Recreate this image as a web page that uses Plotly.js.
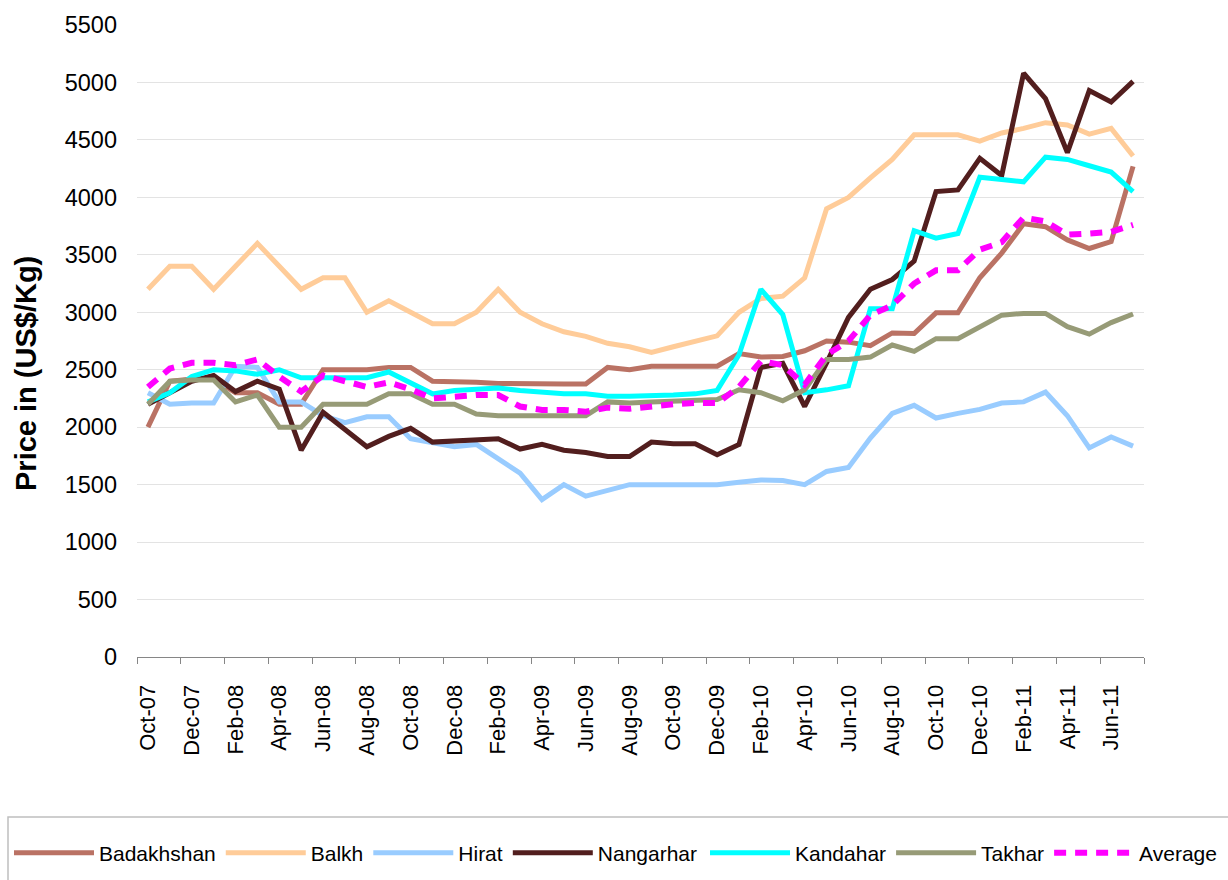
<!DOCTYPE html>
<html>
<head>
<meta charset="utf-8">
<script src="https://cdn.plot.ly/plotly-3.0.1.min.js"></script>
<style>
  html, body { margin: 0; padding: 0; background: #ffffff; }
  #chart { width: 1228px; height: 880px; }
</style>
</head>
<body>
<div id="chart"></div>
<script>
const months = ["Oct-07","Nov-07","Dec-07","Jan-08","Feb-08","Mar-08","Apr-08","May-08","Jun-08","Jul-08","Aug-08","Sep-08",
  "Oct-08","Nov-08","Dec-08","Jan-09","Feb-09","Mar-09","Apr-09","May-09","Jun-09","Jul-09","Aug-09","Sep-09",
  "Oct-09","Nov-09","Dec-09","Jan-10","Feb-10","Mar-10","Apr-10","May-10","Jun-10","Jul-10","Aug-10","Sep-10",
  "Oct-10","Nov-10","Dec-10","Jan-11","Feb-11","Mar-11","Apr-11","May-11","Jun-11","Jul-11"];

const badakhshan = [2000,2400,2420,2420,2300,2300,2200,2200,2500,2500,2500,2520,2520,2400,2400,2390,2380,2375,2375,2375,2375,2520,2500,2530,2530,2530,2530,2640,2610,2615,2665,2750,2740,2710,2820,2815,2995,2995,3300,3515,3770,3745,3630,3555,3615,4270];
const balkh = [3200,3400,3400,3200,3400,3600,3400,3200,3300,3300,3000,3100,3000,2900,2900,3000,3200,3000,2900,2830,2790,2730,2700,2650,2700,2745,2795,3000,3120,3140,3300,3900,4000,4170,4330,4545,4545,4545,4490,4560,4600,4650,4630,4550,4600,4360];
const hirat = [2300,2200,2210,2210,2530,2520,2220,2220,2100,2040,2090,2090,1900,1860,1830,1850,1720,1600,1370,1500,1400,1450,1500,1500,1500,1500,1500,1520,1540,1535,1500,1615,1650,1905,2120,2190,2080,2120,2155,2210,2220,2305,2100,1820,1915,1835];
const nangarhar = [2200,2300,2400,2450,2310,2400,2330,1800,2130,1980,1830,1920,1990,1870,1880,1890,1900,1810,1850,1800,1780,1745,1745,1870,1855,1855,1760,1850,2520,2555,2180,2560,2955,3200,3285,3445,4050,4065,4340,4190,5080,4860,4390,4930,4830,5010];
const kandahar = [2220,2300,2440,2500,2490,2460,2500,2430,2430,2430,2430,2480,2380,2290,2320,2330,2340,2320,2300,2290,2290,2270,2270,2270,2280,2290,2320,2630,3200,2980,2300,2325,2360,3030,3030,3710,3645,3685,4175,4155,4135,4350,4330,4275,4220,4050];
const takhar = [2200,2400,2410,2410,2220,2280,2000,2000,2200,2200,2200,2290,2290,2200,2200,2115,2100,2100,2100,2100,2100,2220,2210,2220,2230,2240,2240,2325,2300,2230,2325,2590,2590,2610,2715,2660,2770,2770,2870,2975,2990,2990,2875,2810,2910,2985];
const average = [2350,2510,2560,2560,2540,2590,2440,2310,2450,2400,2350,2390,2330,2250,2265,2280,2280,2180,2150,2150,2135,2170,2160,2185,2200,2210,2210,2350,2575,2540,2370,2630,2750,2975,3060,3250,3365,3365,3545,3610,3825,3790,3675,3685,3700,3760];

const seriesNames = ["Badakhshan","Balkh","Hirat","Nangarhar","Kandahar","Takhar","Average"];
const seriesValues = [badakhshan, balkh, hirat, nangarhar, kandahar, takhar, average];
const seriesColors = ["#BA7264","#FFCC99","#99CCFF","#521E1E","#00FFFF","#979B77","#FF00FF"];
const legendGroupOf = ["legend","legend","legend","legend","legend2","legend2","legend2"];

const FONT = "Liberation Sans, Arial, sans-serif";

const traces = seriesNames.map((name, i) => ({
  type: "scatter",
  mode: "lines",
  name: name,
  legend: legendGroupOf[i],
  x: months,
  y: seriesValues[i],
  line: {
    color: seriesColors[i],
    width: name === "Average" ? 6 : 5,
    dash: name === "Average" ? "12px,9px" : "solid",
    shape: "linear"
  },
  hoverinfo: "x+y+name"
}));

const L = 137, R = 1144, T = 25, B = 657;
const pw = R - L, ph = B - T;
const px = v => (v - L) / pw;
const py = v => (B - v) / ph;

const legendCommon = {
  orientation: "h",
  xanchor: "left",
  y: py(853),
  yanchor: "middle",
  font: { family: FONT, size: 21, color: "#000000" },
  bgcolor: "rgba(0,0,0,0)",
  borderwidth: 0,
  itemwidth: 80,
  traceorder: "normal"
};

const layout = {
  width: 1228,
  height: 880,
  autosize: false,
  paper_bgcolor: "#ffffff",
  plot_bgcolor: "#ffffff",
  margin: { l: L, r: 1228 - R, t: T, b: 880 - B, pad: 0, autoexpand: false },
  font: { family: FONT, color: "#000000" },
  showlegend: true,
  xaxis: {
    type: "category",
    range: [-0.5, months.length - 0.5],
    dtick: 2,
    tickson: "boundaries",
    ticks: "outside",
    ticklen: 6,
    tickwidth: 1,
    tickcolor: "#868686",
    tickangle: -90,
    tickfont: { family: FONT, size: 22, color: "#000000" },
    showline: true,
    linecolor: "#868686",
    linewidth: 1,
    showgrid: false,
    zeroline: false,
    ticklabelstandoff: 18,
    automargin: false,
    fixedrange: true
  },
  yaxis: {
    range: [0, 5500],
    dtick: 500,
    tick0: 0,
    tickformat: "d",
    ticks: "",
    showline: false,
    showgrid: true,
    gridcolor: "#E3E3E3",
    gridwidth: 1,
    zeroline: false,
    tickfont: { family: FONT, size: 23.5, color: "#000000" },
    ticklabelstandoff: 19,
    automargin: false,
    fixedrange: true
  },
  legend: Object.assign({}, legendCommon, { x: px(9) }),
  legend2: Object.assign({}, legendCommon, { x: px(705) }),
  shapes: [{
    type: "rect",
    xref: "paper", yref: "paper",
    x0: px(8), x1: px(1260),
    y0: py(817), y1: py(920),
    line: { color: "#BFBFBF", width: 1.5 },
    fillcolor: "rgba(0,0,0,0)",
    layer: "below"
  }],
  annotations: [{
    text: "Price in (US$/Kg)",
    xref: "paper", yref: "paper",
    x: px(26), y: py(374),
    xanchor: "center", yanchor: "middle",
    textangle: -90,
    showarrow: false,
    font: { family: FONT, size: 29, color: "#000000", weight: 700 }
  }]
};

Plotly.newPlot("chart", traces, layout, { displayModeBar: false, staticPlot: true });
</script>
</body>
</html>
